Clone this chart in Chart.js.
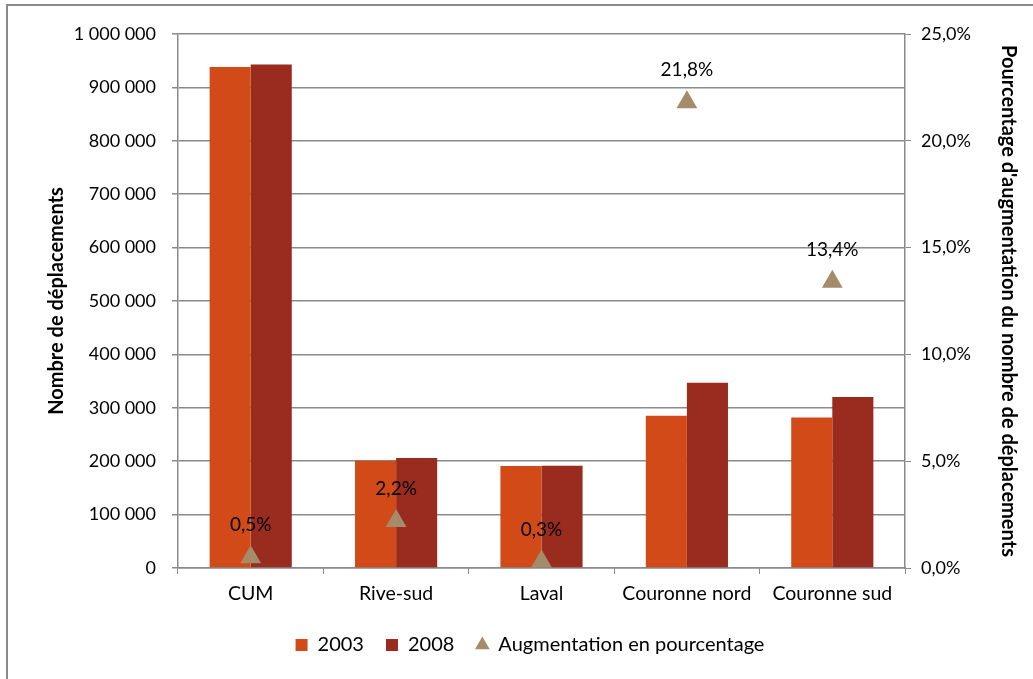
<!DOCTYPE html>
<html>
<head>
<meta charset="utf-8">
<script src="https://cdn.jsdelivr.net/npm/chart.js@4.4.1/dist/chart.umd.min.js"></script>
<style>
  html, body { margin: 0; padding: 0; background: #fff; }
  #wrap { position: relative; width: 1033px; height: 679px; }
  #frame { position: absolute; left: 6px; top: 4px; right: -10px; bottom: -10px; border-left: 2px solid #8a8a8a; border-top: 2px solid #8a8a8a; pointer-events: none; }
</style>
</head>
<body>
<div id="wrap">
  <canvas id="chart" width="1033" height="679"></canvas>
  <div id="frame"></div>
</div>
<script>
// Régions et nombre de déplacements
const regions = ["CUM", "Rive-sud", "Laval", "Couronne nord", "Couronne sud"];
const trips2003 = [938000, 201000, 191000, 285000, 282000];
const trips2008 = [943000, 206000, 191500, 347000, 320000];
const pctIncrease = [0.5, 2.2, 0.3, 21.8, 13.4];

const FONT = "Lato, 'Open Sans', sans-serif";

const fmtThousands = v => String(v).replace(/\B(?=(\d{3})+(?!\d))/g, " ");
const fmtPct = v => v.toFixed(1).replace(".", ",") + "%";

// Etiquettes au-dessus des triangles
const pointLabels = {
  id: "pointLabels",
  afterDatasetsDraw(chart) {
    const meta = chart.getDatasetMeta(2);
    const ctx = chart.ctx;
    ctx.save();
    ctx.font = "19px " + FONT;
    ctx.fillStyle = "#000";
    ctx.textAlign = "center";
    ctx.textBaseline = "middle";
    meta.data.forEach((pt, i) => {
      ctx.fillText(fmtPct(pctIncrease[i]), pt.x, pt.y - 32);
    });
    ctx.restore();
  }
};

const config = {
  type: "bar",
  data: {
    labels: regions,
    datasets: [
      {
        label: "2003",
        data: trips2003,
        backgroundColor: "#d24a17",
        yAxisID: "y",
        order: 2,
        pointStyle: "rect",
        categoryPercentage: 0.565,
        barPercentage: 1,
      },
      {
        label: "2008",
        data: trips2008,
        backgroundColor: "#992b1f",
        yAxisID: "y",
        order: 2,
        pointStyle: "rect",
        categoryPercentage: 0.565,
        barPercentage: 1,
      },
      {
        type: "line",
        label: "Augmentation en pourcentage",
        data: pctIncrease,
        yAxisID: "y1",
        showLine: false,
        pointStyle: "triangle",
        pointRadius: 12,
        pointHoverRadius: 12,
        backgroundColor: "#a48c6a",
        borderColor: "#a48c6a",
        borderWidth: 0,
        order: 1,
      },
    ],
  },
  options: {
    responsive: false,
    animation: false,
    layout: { padding: { left: 40, right: 13, top: 34, bottom: 14 } },
    plugins: {
      legend: {
        display: true,
        position: "bottom",
        labels: {
          usePointStyle: true,
          boxWidth: 12,
          boxHeight: 12,
          padding: 22,
          color: "#000",
          font: { family: FONT, size: 20 },
          sort: (a, b) => a.datasetIndex - b.datasetIndex,
        },
      },
      tooltip: { enabled: false },
    },
    scales: {
      x: {
        grid: { drawOnChartArea: false, drawTicks: true, tickLength: 6, color: "#8a8a8a", offset: true },
        border: { color: "#8a8a8a", width: 1.5 },
        ticks: { color: "#000", padding: 8, font: { family: FONT, size: 19.5 } },
        afterFit: s => { s.height = 45; },
      },
      y: {
        position: "left",
        min: 0,
        max: 1000000,
        ticks: { stepSize: 100000, color: "#000", padding: 16, font: { family: FONT, size: 18 }, callback: v => fmtThousands(v) },
        grid: { color: "#8a8a8a", lineWidth: 1.5, tickLength: 6 },
        border: { color: "#8a8a8a", width: 1.5 },
        title: { display: true, text: "Nombre de déplacements", color: "#000", padding: { top: 5, bottom: 0 }, font: { family: FONT, size: 20, weight: "bold" } },
        afterFit: s => { s.width = 138; },
      },
      y1: {
        position: "right",
        min: 0,
        max: 25,
        ticks: { stepSize: 5, color: "#000", padding: 10, font: { family: FONT, size: 18 }, callback: v => fmtPct(v) },
        grid: { drawOnChartArea: false, tickLength: 6, color: "#8a8a8a" },
        border: { color: "#8a8a8a", width: 1.5 },
        title: { display: true, text: "Pourcentage d'augmentation du nombre de déplacements", color: "#000", padding: { top: 0, bottom: 0 }, font: { family: FONT, size: 20, weight: "bold" } },
        afterFit: s => { s.width = 115; },
      },
    },
  },
  plugins: [pointLabels],
};

const chart = new Chart(document.getElementById("chart"), config);
</script>
</body>
</html>
